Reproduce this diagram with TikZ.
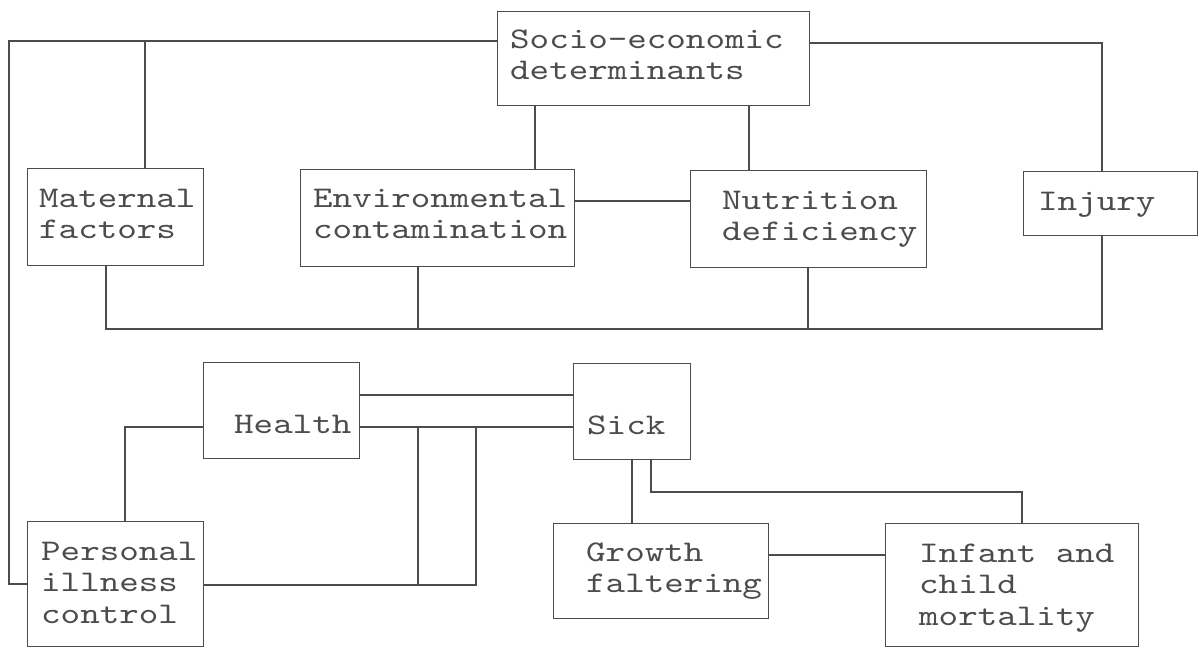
\documentclass[tikz,border=0pt]{standalone}
\usepackage{fontspec}
\newfontfamily\dfont[FakeStretch=1.24]{lmmono10-regular.otf}
\usetikzlibrary{calc}
\definecolor{ink}{gray}{0.3}
\tikzset{
  box/.style={draw=ink, line width=1.3pt, rectangle, inner sep=0pt, anchor=north west},
  txt/.style={text=ink, inner sep=0pt, anchor=base west, font=\dfont\fontsize{30}{31.5}\selectfont},
  conn/.style={draw=ink, line width=1.3pt}
}
\newcommand{\lines}[1]{\begin{tabular}[t]{@{}l@{}}#1\end{tabular}}
\begin{document}
\begin{tikzpicture}[x=1pt,y=-1pt]
\useasboundingbox[fill=white] (0,0) rectangle (1198,648);
% boxes
\node[box, minimum width=312pt, minimum height=94pt] (socio) at (497,11) {};
\node[box, minimum width=176pt, minimum height=97pt] (mat) at (27,168) {};
\node[box, minimum width=274pt, minimum height=97pt] (env) at (300,169) {};
\node[box, minimum width=236pt, minimum height=97pt] (nut) at (690,170) {};
\node[box, minimum width=174pt, minimum height=64pt] (inj) at (1023,171) {};
\node[box, minimum width=156pt, minimum height=96pt] (health) at (203,362) {};
\node[box, minimum width=117pt, minimum height=96pt] (sick) at (573,363) {};
\node[box, minimum width=176pt, minimum height=125pt] (pers) at (27,521) {};
\node[box, minimum width=215pt, minimum height=95pt] (growth) at (553,523) {};
\node[box, minimum width=253pt, minimum height=123pt] (infant) at (885,523) {};
% texts
\node[txt] (tsocio) at (510,48) {\lines{Socio-economic\\determinants}};
\node[txt] (tmat) at (39,207) {\lines{Maternal\\factors}};
\node[txt] (tenv) at (313,207) {\lines{Environmental\\contamination}};
\node[txt] (tnut) at (722,209) {\lines{Nutrition\\deficiency}};
\node[txt] (tinj) at (1038,210) {Injury};
\node[txt] (thealth) at (234,433) {Health};
\node[txt] (tsick) at (587,434) {Sick};
\node[txt] (tpers) at (41,560) {\lines{Personal\\illness\\control}};
\node[txt] (tgrowth) at (586,561) {\lines{Growth\\faltering}};
\node[txt] (tinfant) at (919,562) {\lines{Infant and\\child\\mortality}};
% junction coordinates
\coordinate (ja) at (418,427);
\coordinate (jb) at (476,427);
% connectors
\draw[conn] (socio.west |- 0,41) -| (9,584) -- (pers.west |- 0,584);
\draw[conn] (mat.north -| 145,0) -- (145,41);
\draw[conn] (socio.east |- 0,43) -| (inj.north -| 1102,0);
\draw[conn] (socio.south -| 535,0) -- (env.north -| 535,0);
\draw[conn] (socio.south -| 749,0) -- (nut.north -| 749,0);
\draw[conn] (env.east |- 0,201) -- (nut.west |- 0,201);
\draw[conn] (mat.south -| 106,0) -- (106,329) -- (1102,329) -- (inj.south -| 1102,0);
\draw[conn] (env.south -| 418,0) -- (418,329);
\draw[conn] (nut.south -| 808,0) -- (808,329);
\draw[conn] (health.west |- 0,427) -| (pers.north -| 125,0);
\draw[conn] (health.east |- 0,395) -- (sick.west |- 0,395);
\draw[conn] (health.east |- 0,427) -- (sick.west |- 0,427);
\draw[conn] (ja) -- (418,585);
\draw[conn] (pers.east |- 0,585) -| (jb);
\draw[conn] (sick.south -| 632,0) -- (growth.north -| 632,0);
\draw[conn] (sick.south -| 651,0) |- (1022,492) -- (infant.north -| 1022,0);
\draw[conn] (growth.east |- 0,555) -- (infant.west |- 0,555);
\end{tikzpicture}
\end{document}
